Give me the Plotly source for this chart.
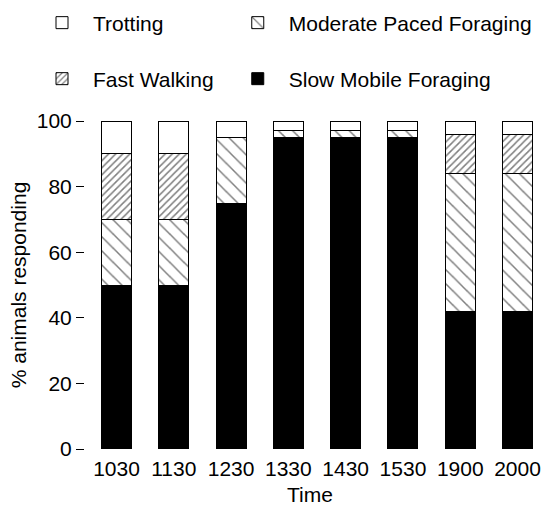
import plotly.graph_objects as go

times = ["1030", "1130", "1230", "1330", "1430", "1530", "1900", "2000"]
slow_mobile = [50, 50, 75, 95, 95, 95, 42, 42]
moderate_paced = [20, 20, 20, 2, 2, 2, 42, 42]
fast_walking = [20, 20, 0, 0, 0, 0, 12, 12]
trotting = [10, 10, 5, 3, 3, 3, 4, 4]
y_ticks = [0, 20, 40, 60, 80, 100]

FONT = "Liberation Sans, Arial, Helvetica, sans-serif"
FS = 21
xs = list(range(len(times)))

fig = go.Figure()
fig.add_trace(go.Bar(
    x=xs, y=slow_mobile, name="Slow Mobile Foraging", legend="legend4",
    marker=dict(color="black", line=dict(color="black", width=1)),
))
fig.add_trace(go.Bar(
    x=xs, y=moderate_paced, name="Moderate Paced Foraging", legend="legend2",
    marker=dict(color="white", line=dict(color="black", width=1),
                pattern=dict(shape="\\", size=10, solidity=0.15, fgcolor="black", bgcolor="white")),
))
fig.add_trace(go.Bar(
    x=xs, y=fast_walking, name="Fast Walking", legend="legend3",
    marker=dict(color="white", line=dict(color="black", width=1),
                pattern=dict(shape="/", size=5, solidity=0.3, fgcolor="black", bgcolor="white")),
))
fig.add_trace(go.Bar(
    x=xs, y=trotting, name="Trotting", legend="legend",
    marker=dict(color="white", line=dict(color="black", width=1)),
))

def leg(x, y):
    return dict(
        x=x, y=y, orientation="h", xanchor="left", yanchor="middle",
        font=dict(family=FONT, size=FS, color="black"),
        itemwidth=52, bgcolor="rgba(0,0,0,0)", borderwidth=0,
    )

fig.update_layout(
    width=541, height=512,
    margin=dict(l=85, r=6, t=121, b=63, autoexpand=False),
    paper_bgcolor="white", plot_bgcolor="white",
    barmode="stack", bargap=0.476,
    font=dict(family=FONT, size=FS, color="black"),
    showlegend=True,
    legend=leg(-0.12, 1.2988),
    legend2=leg(0.315, 1.2988),
    legend3=leg(-0.12, 1.128),
    legend4=leg(0.315, 1.128),
    xaxis=dict(
        range=[-0.55, 7.305], tickmode="array", tickvals=xs, ticktext=times,
        showgrid=False, showline=False, zeroline=False, ticks="", automargin=False,
        ticklabelstandoff=5,
        tickfont=dict(family=FONT, size=FS, color="black"),
        title=dict(text="Time", font=dict(family=FONT, size=FS, color="black"), standoff=8),
    ),
    yaxis=dict(
        range=[0, 100], tickmode="array", tickvals=y_ticks, automargin=False,
        showgrid=False, showline=False, zeroline=False,
        ticks="outside", ticklen=8, tickwidth=1, tickcolor="black",
        tickfont=dict(family=FONT, size=FS, color="black"),
        title=dict(text="% animals responding", font=dict(family=FONT, size=FS, color="black"), standoff=4),
    ),
)

fig.write_html("out.html", config={"displayModeBar": False},
               post_script="document.body.style.margin='0';")
